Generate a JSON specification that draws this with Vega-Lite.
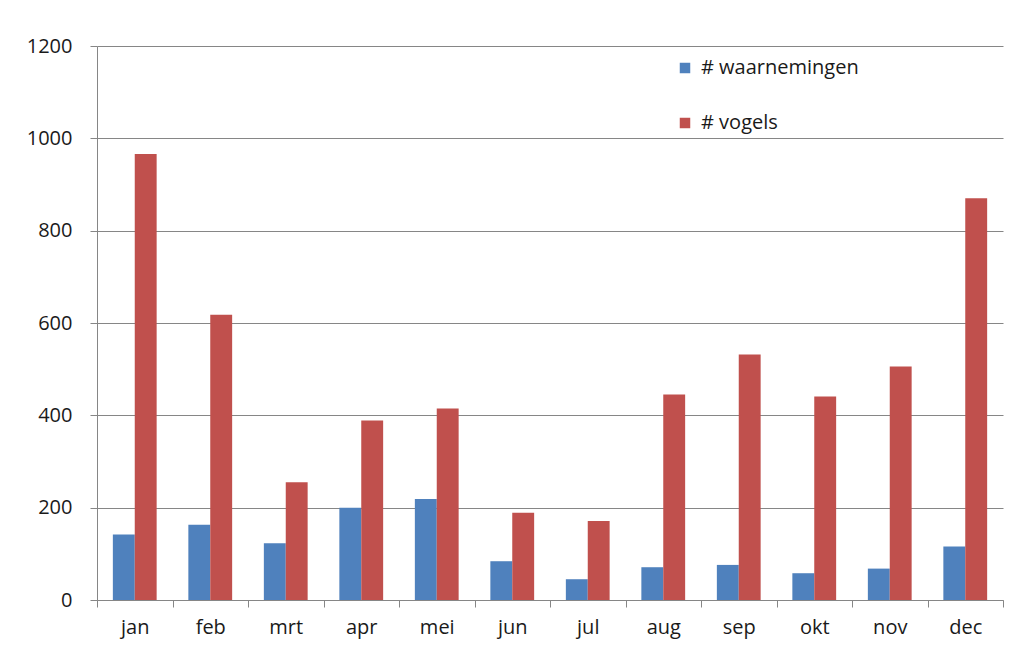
{
  "$schema": "https://vega.github.io/schema/vega-lite/v6.json",
  "width": 906,
  "height": 554,
  "autosize": {"type": "none"},
  "padding": {"left": 97, "top": 46, "right": 13, "bottom": 69},
  "background": "white",
  "config": {
    "view": {"stroke": null},
    "font": "Open Sans"
  },
  "data": {
    "values": [
      {"maand": "jan", "reeks": "# waarnemingen", "aantal": 142},
      {"maand": "jan", "reeks": "# vogels", "aantal": 966},
      {"maand": "feb", "reeks": "# waarnemingen", "aantal": 163},
      {"maand": "feb", "reeks": "# vogels", "aantal": 618},
      {"maand": "mrt", "reeks": "# waarnemingen", "aantal": 123},
      {"maand": "mrt", "reeks": "# vogels", "aantal": 255},
      {"maand": "apr", "reeks": "# waarnemingen", "aantal": 200},
      {"maand": "apr", "reeks": "# vogels", "aantal": 389},
      {"maand": "mei", "reeks": "# waarnemingen", "aantal": 219},
      {"maand": "mei", "reeks": "# vogels", "aantal": 415},
      {"maand": "jun", "reeks": "# waarnemingen", "aantal": 84},
      {"maand": "jun", "reeks": "# vogels", "aantal": 189},
      {"maand": "jul", "reeks": "# waarnemingen", "aantal": 45},
      {"maand": "jul", "reeks": "# vogels", "aantal": 171},
      {"maand": "aug", "reeks": "# waarnemingen", "aantal": 71},
      {"maand": "aug", "reeks": "# vogels", "aantal": 445},
      {"maand": "sep", "reeks": "# waarnemingen", "aantal": 76},
      {"maand": "sep", "reeks": "# vogels", "aantal": 532},
      {"maand": "okt", "reeks": "# waarnemingen", "aantal": 58},
      {"maand": "okt", "reeks": "# vogels", "aantal": 441},
      {"maand": "nov", "reeks": "# waarnemingen", "aantal": 68},
      {"maand": "nov", "reeks": "# vogels", "aantal": 506},
      {"maand": "dec", "reeks": "# waarnemingen", "aantal": 116},
      {"maand": "dec", "reeks": "# vogels", "aantal": 870}
    ]
  },
  "mark": {"type": "bar"},
  "encoding": {
    "x": {
      "field": "maand",
      "type": "nominal",
      "sort": ["jan","feb","mrt","apr","mei","jun","jul","aug","sep","okt","nov","dec"],
      "scale": {"paddingInner": 0, "paddingOuter": 0},
      "axis": {
        "title": null,
        "labelAngle": 0,
        "labelFontSize": 20,
        "labelColor": "#1a1a1a",
        "labelPadding": 10,
        "tickBand": "extent",
        "tickSize": 7,
        "tickColor": "#868686",
        "domainColor": "#868686",
        "grid": false
      }
    },
    "xOffset": {
      "field": "reeks",
      "type": "nominal",
      "sort": ["# waarnemingen", "# vogels"],
      "scale": {"paddingInner": 0, "paddingOuter": 0.724}
    },
    "y": {
      "field": "aantal",
      "type": "quantitative",
      "scale": {"domain": [0, 1200], "nice": false},
      "axis": {
        "title": null,
        "values": [0, 200, 400, 600, 800, 1000, 1200],
        "format": "d",
        "labelFontSize": 20,
        "labelColor": "#1a1a1a",
        "labelPadding": 18,
        "tickSize": 7,
        "tickColor": "#868686",
        "domain": true,
        "domainColor": "#868686",
        "gridColor": "#868686",
        "gridOpacity": 1
      }
    },
    "color": {
      "field": "reeks",
      "type": "nominal",
      "sort": ["# waarnemingen", "# vogels"],
      "scale": {"domain": ["# waarnemingen", "# vogels"], "range": ["#4F81BD", "#C0504D"]},
      "legend": {
        "title": null,
        "orient": "none",
        "legendX": 578,
        "legendY": 12,
        "symbolType": "square",
        "symbolSize": 110,
        "symbolStrokeWidth": 0,
        "labelFontSize": 20,
        "labelColor": "#1a1a1a",
        "rowPadding": 35,
        "labelOffset": 6
      }
    }
  }
}
